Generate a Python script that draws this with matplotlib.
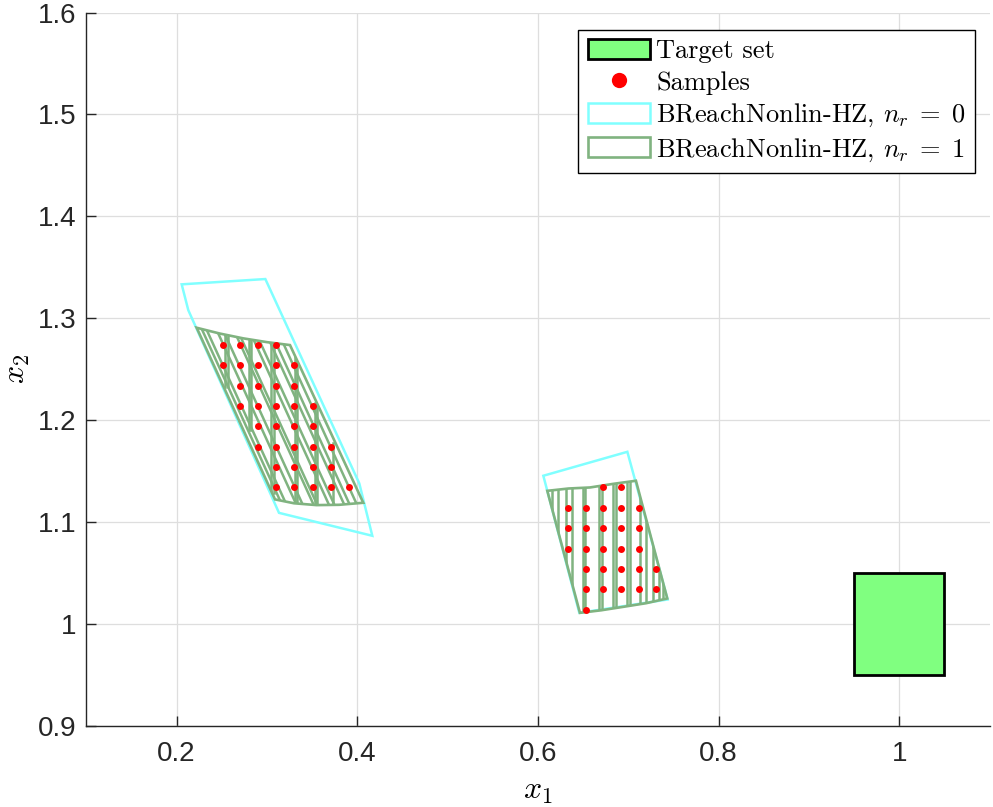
import matplotlib.pyplot as plt
from matplotlib.patches import Polygon, Rectangle
import numpy as np

plt.rcParams['mathtext.fontset'] = 'cm'
plt.rcParams['font.family'] = ['Liberation Sans', 'DejaVu Sans']

# target set
target_x = [0.95, 1.05]
target_y = [0.95, 1.05]

# outer hulls
cyan_left = [(0.2057, 1.3333), (0.2983, 1.3385), (0.4023, 1.138), (0.4167, 1.0866),
             (0.3134, 1.1091), (0.213, 1.308)]
cyan_right = [(0.606, 1.1455), (0.699, 1.169), (0.7436, 1.0241), (0.6458, 1.011),
              (0.6104, 1.1307)]
green_left = [(0.2223, 1.2907), (0.2480, 1.2850), (0.2739, 1.2803), (0.3000, 1.2766),
              (0.3256, 1.2737), (0.4067, 1.119), (0.3800, 1.1170), (0.355, 1.1167),
              (0.330, 1.1185), (0.309, 1.1223)]
green_right = [(0.6104, 1.1307), (0.6340, 1.1330), (0.6576, 1.134), (0.6830, 1.1375),
               (0.7085, 1.1406), (0.7432, 1.0251), (0.7200, 1.0205), (0.6945, 1.0169),
               (0.6700, 1.0135), (0.6465, 1.011)]

# split pieces, left set: vertical edges (x, y_top, y_bottom)
vert_left = [(0.2536, 1.2835, 1.2328), (0.2565, 1.2835, 1.2328),
             (0.2798, 1.2786, 1.1903), (0.2825, 1.2786, 1.1903),
             (0.3049, 1.2764, 1.1282), (0.3076, 1.2764, 1.1282),
             (0.3311, 1.2656, 1.1200), (0.3336, 1.2656, 1.1200),
             (0.3532, 1.2165, 1.1184), (0.3560, 1.2165, 1.1184),
             (0.3728, 1.1772, 1.1180)]
# slanted edges, left set: x where they cross y = 1.2, and slope dx/dy
slant_left_x = [0.274, 0.279, 0.290, 0.297, 0.309, 0.313, 0.326,
                0.332, 0.343, 0.349, 0.357]
slant_left_slope = -0.515

# split pieces, right set: vertical edges
vert_right_x = [0.6159, 0.6225, 0.6307, 0.6374, 0.6495, 0.6521, 0.6676, 0.6706,
                0.6834, 0.6864, 0.6989, 0.7019, 0.7130, 0.7196, 0.7277, 0.7344, 0.7381]

# samples: rows y -> list of x
samples_left = {
    1.274: [0.251, 0.270, 0.290, 0.310],
    1.254: [0.251, 0.270, 0.290, 0.310, 0.330],
    1.234: [0.270, 0.290, 0.310, 0.330],
    1.214: [0.270, 0.290, 0.310, 0.330, 0.351],
    1.194: [0.290, 0.310, 0.330, 0.351],
    1.174: [0.290, 0.310, 0.330, 0.351, 0.371],
    1.154: [0.310, 0.330, 0.351, 0.371],
    1.134: [0.310, 0.330, 0.351, 0.371, 0.391],
}
samples_right = {
    1.134: [0.672, 0.692],
    1.114: [0.633, 0.653, 0.672, 0.692, 0.712],
    1.094: [0.633, 0.653, 0.672, 0.692, 0.712],
    1.074: [0.633, 0.653, 0.672, 0.692, 0.712],
    1.054: [0.653, 0.672, 0.692, 0.712, 0.731],
    1.034: [0.653, 0.672, 0.692, 0.712, 0.731],
    1.014: [0.653],
}

cyan = '#80ffff'
green = '#80b380'

fig = plt.figure(figsize=(9.93, 8.07), dpi=100)
ax = fig.add_axes([0.0868, 0.1004, 0.9098, 0.8841])

tgt = Rectangle((target_x[0], target_y[0]), target_x[1] - target_x[0], target_y[1] - target_y[0],
                facecolor='#80ff80', edgecolor='black', linewidth=2, zorder=2)
ax.add_patch(tgt)

cl = Polygon(cyan_left, closed=True, facecolor='none', edgecolor=cyan, linewidth=1.8, zorder=2)
cr = Polygon(cyan_right, closed=True, facecolor='none', edgecolor=cyan, linewidth=1.8, zorder=2)
ax.add_patch(cl)
ax.add_patch(cr)

gl = Polygon(green_left, closed=True, facecolor='none', edgecolor=green, linewidth=1.9, zorder=3)
gr = Polygon(green_right, closed=True, facecolor='none', edgecolor=green, linewidth=1.9, zorder=3)
ax.add_patch(gl)
ax.add_patch(gr)

for x, y0, y1 in vert_left:
    ln, = ax.plot([x, x], [y0, y1], color=green, lw=1.8, zorder=3)
    ln.set_clip_path(gl)
for x0 in slant_left_x:
    ys = np.array([1.32, 1.08])
    ln, = ax.plot(x0 + slant_left_slope * (ys - 1.2), ys, color=green, lw=1.8, zorder=3)
    ln.set_clip_path(gl)
for x in vert_right_x:
    ln, = ax.plot([x, x], [0.98, 1.17], color=green, lw=1.8, zorder=3)
    ln.set_clip_path(gr)

sx, sy = [], []
for d in (samples_left, samples_right):
    for y, xs in d.items():
        sx += xs
        sy += [y] * len(xs)
pts, = ax.plot(sx, sy, 'o', color='red', markersize=5, markeredgewidth=0, zorder=4)

ax.set_xlim(0.1, 1.1)
ax.set_ylim(0.9, 1.6)
ax.set_xticks([0.2, 0.4, 0.6, 0.8, 1.0])
ax.set_xticklabels(['0.2', '0.4', '0.6', '0.8', '1'])
ax.set_yticks([0.9, 1.0, 1.1, 1.2, 1.3, 1.4, 1.5, 1.6])
ax.set_yticklabels(['0.9', '1', '1.1', '1.2', '1.3', '1.4', '1.5', '1.6'])
ax.grid(True, color='#dedede', linewidth=0.9)
ax.set_axisbelow(True)
for s in ['top', 'right']:
    ax.spines[s].set_visible(False)
for s in ['left', 'bottom']:
    ax.spines[s].set_color('#262626')
    ax.spines[s].set_linewidth(1.0)
ax.tick_params(direction='in', length=7, width=1, colors='#262626', labelsize=20)
ax.tick_params(axis='x', pad=11)
ax.tick_params(axis='y', pad=7)

ax.set_xlabel(r'$x_1$', fontsize=23)
ax.set_ylabel(r'$x_2$', fontsize=23)
ax.xaxis.set_label_coords(0.5, -0.07)
ax.yaxis.set_label_coords(-0.06, 0.5)

handles = [tgt, pts, cl, gl]
labels = ['Target set', 'Samples', r'BReachNonlin-HZ, $n_r\;=\;0$', r'BReachNonlin-HZ, $n_r\;=\;1$']
leg = ax.legend(handles, labels, loc='upper right', bbox_to_anchor=(0.984, 0.976),
                borderaxespad=0, fancybox=False, edgecolor='black', framealpha=1,
                prop={'family': 'cmr10', 'size': 19}, handlelength=2.35, handleheight=0.8,
                labelspacing=0.27, handletextpad=0.25, borderpad=0.35, markerscale=2.2)
leg.get_frame().set_linewidth(1.0)

fig.savefig('out.png', dpi=100)
